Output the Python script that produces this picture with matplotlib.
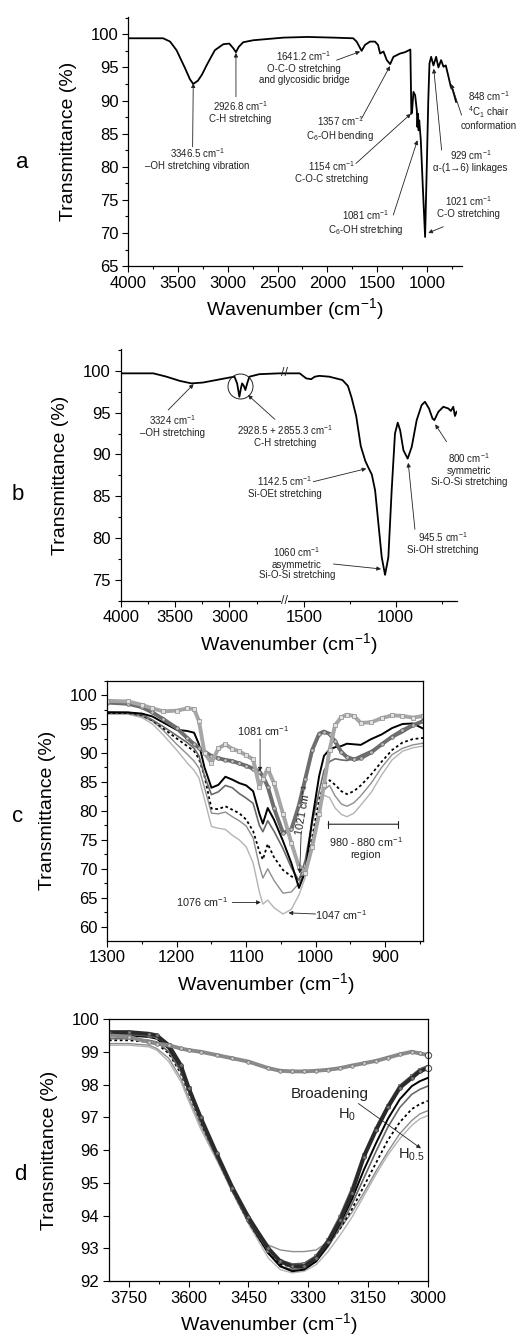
import numpy as np
import matplotlib
matplotlib.use("Agg")
import matplotlib.pyplot as plt
from matplotlib.ticker import MultipleLocator, FixedLocator

plt.rcParams['font.family'] = ['Liberation Sans', 'DejaVu Sans']
plt.rcParams['mathtext.fontset'] = 'custom'
plt.rcParams['mathtext.rm'] = 'Liberation Sans'
plt.rcParams['mathtext.it'] = 'Liberation Sans:italic'
plt.rcParams['mathtext.bf'] = 'Liberation Sans:bold'
plt.rcParams['mathtext.default'] = 'regular'

# ---- panel a : dextran spectrum
wn_a = [4000, 3800, 3650, 3580, 3515, 3430, 3380, 3347, 3300, 3260, 3210, 3130, 3045, 2985,
        2945, 2918, 2890, 2845, 2745, 2440, 2200, 1940, 1740, 1705, 1680, 1655, 1621, 1571,
        1521, 1490, 1469, 1435, 1402, 1368, 1335, 1268, 1218, 1178, 1165, 1155, 1148, 1134,
        1117, 1100, 1094, 1088, 1082, 1076, 1060, 1040, 1017, 1000, 985, 973, 956, 933, 906,
        883, 856, 832, 809, 782, 759, 739, 705]
T_a = [99.4, 99.4, 99.4, 98.9, 97.6, 94.9, 93.2, 92.5, 93.0, 93.9, 95.4, 97.6, 98.5, 98.6,
       97.9, 97.3, 98.1, 98.8, 99.1, 99.5, 99.6, 99.5, 99.4, 98.9, 98.2, 97.5, 98.4, 98.9,
       98.9, 98.4, 97.1, 97.4, 96.1, 95.5, 96.6, 97.1, 97.3, 97.6, 97.7, 88.0, 88.3, 91.3,
       90.8, 88.5, 86.0, 88.0, 85.5, 87.0, 84.0, 77.0, 69.4, 80.0, 90.0, 95.6, 96.6, 95.3, 96.6,
       95.0, 96.1, 95.1, 95.3, 93.6, 92.1, 91.6, 89.8]

# ---- panel b : silica spectrum (broken axis 2500 -> 1600)
wn_b = [4000, 3800, 3700, 3579, 3457, 3350, 3244, 3122, 3000, 2954, 2930, 2909, 2895, 2884,
        2868, 2854, 2835, 2817, 2726, 2543, 2500, 1600, 1522, 1487, 1460, 1440, 1415, 1361,
        1290, 1260, 1240, 1215, 1190, 1165, 1148, 1130, 1112, 1094, 1076, 1058, 1040, 1022,
        1004, 989, 976, 958, 935, 913, 886, 859, 841, 819, 800, 790, 768, 741, 714, 700, 687,
        678, 669]
T_b = [99.7, 99.7, 99.7, 99.3, 98.8, 98.5, 98.6, 98.9, 99.2, 99.3, 98.5, 96.9, 97.9, 98.5,
       98.2, 97.7, 98.6, 99.3, 99.6, 99.7, 99.7, 99.7, 99.7, 99.1, 99.0, 99.3, 99.4, 99.3,
       98.9, 98.2, 96.8, 94.6, 91.0, 89.2, 88.4, 87.6, 85.7, 81.7, 77.7, 75.6, 77.7, 85.7,
       92.5, 93.8, 92.9, 90.5, 89.5, 90.9, 94.1, 95.9, 96.3, 95.5, 94.3, 94.1, 95.1, 95.7,
       95.5, 95.2, 95.7, 94.6, 95.1]

# ---- panel c : 1300-850 region, all samples
wn_c = [1300, 1270, 1250, 1235, 1220, 1200, 1185, 1175, 1168, 1160, 1150, 1140, 1130, 1120,
        1110, 1100, 1090, 1081, 1076, 1069, 1060, 1047, 1035, 1024, 1015, 1005, 995, 988, 980,
        972, 963, 955, 945, 935, 920, 905, 890, 875, 860, 845]
c_dextran = [99.0, 98.9, 98.3, 97.7, 97.2, 97.3, 97.7, 97.6, 95.5, 90.0, 88.3, 90.8, 91.5, 90.7,
             90.3, 89.6, 88.9, 84.2, 85.5, 87.3, 84.8, 79.5, 74.5, 70.3, 69.3, 73.8, 79.5, 84.5,
             90.5, 94.8, 96.2, 96.6, 96.4, 95.2, 95.3, 96.0, 96.5, 96.4, 96.1, 96.4]
c_silica = [98.7, 98.5, 97.9, 97.0, 95.9, 94.3, 92.6, 91.5, 90.9, 90.2, 89.5, 89.1, 88.8, 88.6,
            88.2, 87.8, 87.3, 86.8, 86.0, 84.2, 80.5, 76.2, 76.8, 81.0, 85.5, 90.5, 93.3, 93.7,
            93.3, 92.0, 90.2, 89.3, 88.9, 89.1, 90.1, 91.5, 92.8, 93.9, 94.8, 95.5]
c_h1 = [97.0, 97.0, 96.8, 96.3, 95.3, 94.0, 93.8, 93.5, 91.5, 87.5, 84.0, 84.5, 85.9, 85.4,
        84.8, 84.4, 83.4, 79.5, 77.8, 80.5, 78.5, 74.8, 71.0, 66.7, 69.5, 78.5, 86.0, 89.5,
        90.6, 91.0, 91.2, 91.6, 91.5, 91.4, 92.4, 93.2, 94.3, 95.0, 95.1, 94.2]
c_h2 = [97.1, 97.0, 96.6, 95.7, 94.6, 93.0, 91.8, 90.8, 89.5, 86.0, 82.8, 83.3, 84.4, 84.0,
        83.0, 82.2, 81.3, 77.5, 76.4, 78.3, 76.5, 73.5, 70.2, 68.0, 71.5, 78.0, 83.3, 87.0,
        88.5, 89.0, 88.8, 88.7, 89.0, 89.6, 90.4, 91.5, 92.6, 93.5, 94.6, 95.8]
c_h3 = [96.9, 96.9, 96.5, 95.6, 94.3, 92.5, 91.2, 90.3, 89.0, 86.0, 80.4, 80.3, 80.8, 80.2,
        79.6, 78.5, 76.5, 73.0, 71.6, 74.3, 72.0, 69.8, 68.7, 68.2, 70.0, 75.5, 82.0, 84.5,
        85.3, 84.5, 83.4, 82.9, 83.4, 84.4, 86.3, 88.5, 90.5, 91.8, 92.4, 92.6]
c_h4 = [96.8, 96.8, 96.3, 95.5, 94.0, 91.5, 89.8, 88.6, 87.4, 84.0, 79.6, 79.5, 79.8, 79.0,
        78.3, 77.4, 75.3, 70.5, 68.4, 70.0, 68.0, 65.8, 66.0, 67.5, 69.8, 75.0, 80.5, 83.6,
        84.4, 82.6, 81.2, 80.8, 81.4, 82.6, 84.8, 87.5, 89.7, 90.8, 91.4, 91.7]
c_h5 = [96.7, 96.7, 96.1, 95.0, 93.2, 90.5, 88.3, 87.0, 85.7, 82.0, 77.3, 77.0, 76.8, 75.8,
        75.0, 73.8, 71.0, 66.0, 63.9, 64.6, 63.3, 62.2, 63.0, 65.5, 68.5, 74.0, 80.0, 82.7,
        82.3, 80.5, 79.4, 79.0, 79.6, 81.0, 83.2, 86.2, 88.8, 90.3, 90.9, 91.2]

# ---- panel d : OH band
wn_d = [3800, 3750, 3700, 3680, 3650, 3620, 3600, 3570, 3530, 3490, 3450, 3400, 3370, 3340,
        3310, 3280, 3250, 3220, 3190, 3160, 3130, 3100, 3070, 3040, 3020, 3000]
d_silica = [99.5, 99.45, 99.3, 99.25, 99.2, 99.1, 99.05, 99.0, 98.9, 98.8, 98.7, 98.5, 98.42,
            98.4, 98.4, 98.42, 98.45, 98.5, 98.58, 98.65, 98.72, 98.82, 98.92, 99.0, 98.95, 98.9]
d_dextran = [99.55, 99.55, 99.5, 99.45, 99.2, 98.55, 97.9, 96.95, 95.85, 94.8, 93.9, 92.95,
             92.62, 92.5, 92.52, 92.75, 93.25, 93.95, 94.8, 95.85, 96.65, 97.35, 97.95, 98.25,
             98.45, 98.55]
d_h0 = [99.6, 99.6, 99.55, 99.5, 99.2, 98.6, 97.9, 97.0, 95.9, 94.85, 93.95, 93.0, 92.6, 92.45,
        92.45, 92.7, 93.2, 93.85, 94.7, 95.8, 96.6, 97.3, 97.9, 98.2, 98.4, 98.5]
d_h1 = [99.5, 99.5, 99.45, 99.4, 99.1, 98.5, 97.85, 96.95, 95.85, 94.8, 93.85, 92.85, 92.45,
        92.3, 92.35, 92.6, 93.1, 93.75, 94.5, 95.4, 96.2, 96.95, 97.55, 97.95, 98.1, 98.2]
d_h2 = [99.4, 99.4, 99.35, 99.3, 99.0, 98.4, 97.8, 96.9, 95.8, 94.75, 93.8, 92.85, 92.45, 92.35,
        92.4, 92.6, 93.05, 93.65, 94.35, 95.15, 95.95, 96.7, 97.3, 97.7, 97.85, 97.95]
d_h3 = [99.35, 99.35, 99.3, 99.25, 98.95, 98.35, 97.75, 96.85, 95.8, 94.75, 93.8, 92.85, 92.5,
        92.45, 92.5, 92.7, 93.1, 93.6, 94.2, 94.9, 95.6, 96.3, 96.85, 97.25, 97.4, 97.5]
d_h4 = [99.25, 99.25, 99.2, 99.1, 98.8, 98.2, 97.6, 96.75, 95.75, 94.8, 93.9, 93.1, 92.95, 92.9,
        92.9, 92.95, 93.2, 93.6, 94.1, 94.7, 95.35, 95.95, 96.5, 96.9, 97.1, 97.2]
d_h5 = [99.2, 99.2, 99.15, 99.05, 98.7, 98.1, 97.5, 96.65, 95.7, 94.7, 93.75, 92.7, 92.35,
        92.25, 92.3, 92.5, 92.9, 93.4, 93.95, 94.6, 95.25, 95.85, 96.35, 96.75, 96.95, 97.05]

INK = '#222222'


def style(ax, box=False):
    ax.spines['top'].set_visible(box)
    ax.spines['right'].set_visible(box)
    for s in ax.spines.values():
        s.set_linewidth(0.9)
    ax.tick_params(which='both', direction='out', labelsize=12, width=0.8,
                   top=False, right=False)
    ax.tick_params(which='major', length=4, pad=3)
    ax.tick_params(which='minor', length=2)
    ax.set_xlabel('Wavenumber (cm$^{-1}$)', fontsize=14, labelpad=4)
    ax.set_ylabel('Transmittance (%)', fontsize=14, labelpad=10)


def note(ax, x, y, s, size=7, coords='axes', **kw):
    tr = ax.transAxes if coords == 'axes' else ax.transData
    ax.text(x, y, s, transform=tr, ha='center', va='center', fontsize=size,
            color=INK, linespacing=1.1, **kw)


def arrow(ax, head, tail, coords='axes fraction'):
    ax.annotate('', xy=head, xycoords='data', xytext=tail, textcoords=coords,
                arrowprops=dict(arrowstyle='-|>', lw=0.6, color=INK,
                                mutation_scale=6, shrinkA=0, shrinkB=0))


fig = plt.figure(figsize=(5.29, 13.35), dpi=100)

# ================= a
ax = fig.add_axes([0.2425, 0.8007, 0.6301, 0.1865])
ax.plot(wn_a, T_a, color='k', lw=1.3)
ax.set_xlim(4000, 650)
ax.set_ylim(65, 102.6)
ax.xaxis.set_major_locator(MultipleLocator(500))
ax.xaxis.set_minor_locator(MultipleLocator(250))
ax.yaxis.set_major_locator(MultipleLocator(5))
ax.yaxis.set_minor_locator(MultipleLocator(2.5))
style(ax)

note(ax, 0.207, 0.431, '3346.5 cm$^{-1}$\n–OH stretching vibration')
arrow(ax, (3347, 92.6), (0.193, 0.479))
note(ax, 0.336, 0.622, '2926.8 cm$^{-1}$\nC-H stretching')
arrow(ax, (2918, 97.2), (0.323, 0.680))
note(ax, 0.527, 0.799, '1641.2 cm$^{-1}$\nO-C-O stretching\nand glycosidic bridge')
arrow(ax, (1670, 97.4), (0.625, 0.827))
note(ax, 0.635, 0.552, '1357 cm$^{-1}$\nC$_6$-OH bending')
arrow(ax, (1370, 95.2), (0.700, 0.593))
note(ax, 0.610, 0.381, '1154 cm$^{-1}$\nC-O-C stretching')
arrow(ax, (1160, 88.0), (0.683, 0.412))
note(ax, 0.712, 0.173, '1081 cm$^{-1}$\nC$_6$-OH stretching')
arrow(ax, (1094, 84.0), (0.795, 0.205))
note(ax, 1.020, 0.238, '1021 cm$^{-1}$\nC-O stretching')
arrow(ax, (985, 70.0), (0.945, 0.158))
note(ax, 1.027, 0.422, '929 cm$^{-1}$\nα-(1→6) linkages')
arrow(ax, (930, 94.8), (0.940, 0.466))
note(ax, 1.082, 0.627, '848 cm$^{-1}$\n$^4$C$_1$ chair\nconformation')
arrow(ax, (755, 92.5), (1.0, 0.606))


# ================= b
def b_fwd(x):
    x = np.asarray(x, float)
    p = np.where(x >= 2500, (4000 - x) * 0.1093,
                 np.where(x >= 1600, 163.95 + (2500 - x) / 900 * 1.5,
                          165.45 + (1600 - x) * 0.1848))
    return -p


def b_inv(v):
    p = -np.asarray(v, float)
    return np.where(p <= 163.95, 4000 - p / 0.1093,
                    np.where(p <= 165.45, 2500 - (p - 163.95) / 1.5 * 900,
                             1600 - (p - 165.45) / 0.1848))


ax = fig.add_axes([0.2282, 0.5500, 0.6363, 0.1885])
ax.set_xscale('function', functions=(b_fwd, b_inv))
ax.plot(wn_b, T_b, color='k', lw=1.3)
ax.set_xlim(4000, 665)
ax.set_ylim(72.5, 102.6)
ax.xaxis.set_major_locator(FixedLocator([4000, 3500, 3000, 1500, 1000]))
ax.xaxis.set_minor_locator(FixedLocator([3750, 3250, 2750, 1250, 750]))
ax.xaxis.set_major_formatter(plt.FuncFormatter(lambda v, p: '%d' % round(v)))
ax.xaxis.set_minor_formatter(plt.NullFormatter())
ax.yaxis.set_major_locator(MultipleLocator(5))
ax.yaxis.set_minor_locator(MultipleLocator(2.5))
style(ax)
ax.text(2050, 99.7, '//', ha='center', va='center', fontsize=9, color=INK)
ax.text(2050, 0, '//', transform=ax.get_xaxis_transform(), ha='center', va='center',
        fontsize=9, color=INK, clip_on=False,
        bbox=dict(fc='white', ec='none', pad=0.3))
ax.plot([2900], [98.2], 'o', ms=18, mfc='none', mec=INK, mew=0.7)

note(ax, 0.155, 0.697, '3324 cm$^{-1}$\n–OH stretching')
arrow(ax, (3330, 98.4), (0.141, 0.758))
note(ax, 0.489, 0.657, '2928.5 + 2855.3 cm$^{-1}$\nC-H stretching')
arrow(ax, (2830, 97.1), (0.458, 0.721))
note(ax, 0.488, 0.453, '1142.5 cm$^{-1}$\nSi-OEt stretching')
arrow(ax, (1160, 88.3), (0.572, 0.473))
note(ax, 0.523, 0.151, '1060 cm$^{-1}$\nasymmetric\nSi-O-Si stretching')
arrow(ax, (1080, 76.3), (0.632, 0.146))
note(ax, 0.958, 0.232, '945.5 cm$^{-1}$\nSi-OH stretching')
arrow(ax, (932, 89.0), (0.874, 0.284))
note(ax, 1.034, 0.523, '800 cm$^{-1}$\nsymmetric\nSi-O-Si stretching')
arrow(ax, (785, 93.6), (0.968, 0.632))

# ================= c
ax = fig.add_axes([0.2028, 0.2954, 0.5974, 0.1948])
ax.plot(wn_c, c_h5, color='#b4b4b4', lw=1.0)
ax.plot(wn_c, c_h4, color='#8e8e8e', lw=1.0)
ax.plot(wn_c, c_h3, color='k', lw=1.3, ls=(0, (1.5, 1.5)))
ax.plot(wn_c, c_h2, color='#6a6a6a', lw=1.2)
ax.plot(wn_c, c_h1, color='k', lw=1.4)
ax.plot(wn_c, c_silica, color='#6e6e6e', lw=2.8, marker='o', ms=2.6, mfc='#bdbdbd',
        mec='#5a5a5a', mew=0.5)
ax.plot(wn_c, c_dextran, color='#a6a6a6', lw=2.8, marker='s', ms=2.6, mfc='#e0e0e0',
        mec='#8c8c8c', mew=0.5)
ax.set_xlim(1300, 845)
ax.set_ylim(57.6, 102.5)
ax.xaxis.set_major_locator(MultipleLocator(100))
ax.xaxis.set_minor_locator(MultipleLocator(50))
ax.yaxis.set_major_locator(MultipleLocator(5))
ax.yaxis.set_minor_locator(MultipleLocator(2.5))
style(ax, box=True)

note(ax, 1075, 93.8, '1081 cm$^{-1}$', size=7.8, coords='data')
arrow(ax, (1080, 86.8), (1080, 92.4), coords='data')
note(ax, 1019, 80.1, '1021 cm$^{-1}$', size=7.8, coords='data', rotation=80)
arrow(ax, (1023, 69.2), (1021, 75.7), coords='data')
ax.annotate('', xy=(882, 77.7), xytext=(982, 77.7),
            arrowprops=dict(arrowstyle='|-|,widthA=0.25,widthB=0.25', lw=0.8,
                            color=INK, shrinkA=0, shrinkB=0))
note(ax, 928, 73.7, '980 - 880 cm$^{-1}$\nregion', size=7.8, coords='data')
note(ax, 1164, 64.3, '1076 cm$^{-1}$', size=7.8, coords='data')
arrow(ax, (1079, 64.2), (1120, 64.2), coords='data')
note(ax, 964, 62.0, '1047 cm$^{-1}$', size=7.8, coords='data')
arrow(ax, (1039, 62.4), (1000, 62.2), coords='data')

# ================= d
ax = fig.add_axes([0.2060, 0.0404, 0.6025, 0.1963])
ax.plot(wn_d, d_h5, color='#b4b4b4', lw=1.0)
ax.plot(wn_d, d_h4, color='#8e8e8e', lw=1.0)
ax.plot(wn_d, d_h3, color='k', lw=1.3, ls=(0, (1.5, 1.5)))
ax.plot(wn_d, d_h2, color='#6a6a6a', lw=1.2)
ax.plot(wn_d, d_h1, color='k', lw=1.4)
ax.plot(wn_d, d_dextran, color='#5a5a5a', lw=2.2, marker='s', ms=2.2, mfc='#9a9a9a',
        mec='#555555', mew=0.4)
ax.plot(wn_d, d_h0, color='#2a2a2a', lw=2.8, marker='o', ms=2.6, mfc='#777777',
        mec='#333333', mew=0.5)
ax.plot(wn_d, d_silica, color='#8a8a8a', lw=2.8, marker='o', ms=2.6, mfc='#c8c8c8',
        mec='#6a6a6a', mew=0.5)
ax.plot([3000, 3000], [d_silica[-1], d_h0[-1]], ls='none', marker='o', ms=4.5,
        mfc='white', mec='#555555', mew=0.8, clip_on=False)
ax.set_xlim(3800, 3000)
ax.set_ylim(92, 100)
ax.xaxis.set_major_locator(MultipleLocator(150))
ax.xaxis.set_minor_locator(MultipleLocator(75))
ax.yaxis.set_major_locator(MultipleLocator(1))
style(ax, box=True)

note(ax, 3246, 97.71, 'Broadening', size=11, coords='data')
note(ax, 3203, 97.07, 'H$_0$', size=10.5, coords='data')
note(ax, 3040, 95.85, 'H$_{0.5}$', size=10.5, coords='data')
arrow(ax, (3017, 96.05), (3174, 97.42), coords='data')

# panel letters
fig.text(22 / 529, 1 - 163 / 1335, 'a', fontsize=16, ha='center', va='center')
fig.text(18 / 529, 1 - 495 / 1335, 'b', fontsize=16, ha='center', va='center')
fig.text(18 / 529, 1 - 817 / 1335, 'c', fontsize=16, ha='center', va='center')
fig.text(20 / 529, 1 - 1175 / 1335, 'd', fontsize=16, ha='center', va='center')

fig.savefig('out.png', dpi=100)
